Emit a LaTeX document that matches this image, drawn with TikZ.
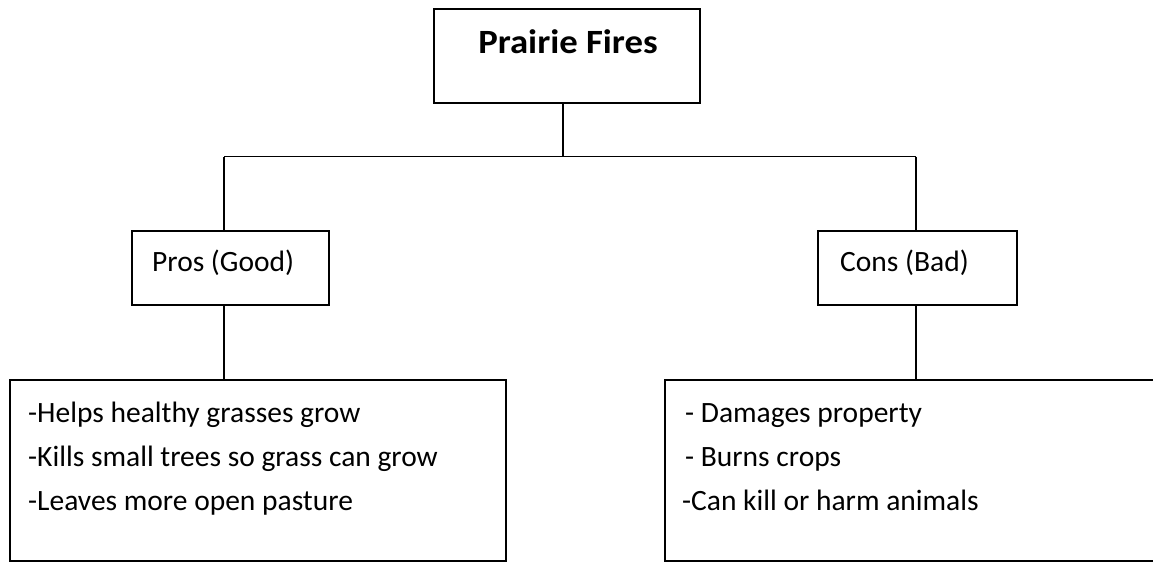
\documentclass[tikz,border=0pt]{standalone}
\usepackage{fontspec}
\setmainfont{Carlito}
\begin{document}
\begin{tikzpicture}[x=1pt,y=-1pt,
  box/.style={draw=black, line width=1.8pt, rectangle, inner sep=0pt},
  link/.style={draw=black, line width=1.3pt},
  txt/.style={anchor=base west, inner sep=0pt, font=\fontsize{29.5}{34}\selectfont},
  ttl/.style={anchor=base, inner sep=0pt, font=\fontsize{34}{40}\selectfont\bfseries}]
\useasboundingbox (0,0) rectangle (1153,563);
\clip (0,0) rectangle (1153,563);

% boxes
\node[box, minimum width=266pt, minimum height=94pt] (top) at (567,56) {};
\node[box, minimum width=197pt, minimum height=74pt] (pros) at (230.5,268) {};
\node[box, minimum width=199pt, minimum height=74pt] (cons) at (917.5,268) {};
\node[box, minimum width=496pt, minimum height=181pt] (good) at (258,470.5) {};
\node[box, minimum width=500pt, minimum height=181pt] (bad) at (915,470.5) {};

% texts
\node[ttl] (ttext) at (568,53.3) {\scalebox{1.08}[1]{Prairie Fires}};
\node[txt] (ptext) at (152,271.7) {Pros (Good)};
\node[txt] (ctext) at (840,271.7) {Cons (Bad)};
\node[txt] (g1) at (28,422) {-Helps healthy grasses grow};
\node[txt] (g2) at (28,466) {-Kills small trees so grass can grow};
\node[txt] (g3) at (28,510) {-Leaves more open pasture};
\node[txt] (b1) at (685,422) {- Damages property};
\node[txt] (b2) at (685,466) {- Burns crops};
\node[txt] (b3) at (682,510) {-Can kill or harm animals};

% connectors
\coordinate (j) at (563,156.5);
\coordinate (jL) at (224,156.5);
\coordinate (jR) at (916,156.5);
\draw[link] (top.south -| j) -- (j);
\draw[link] (jL) -- (jR);
\draw[link] (jL) -- (jL |- pros.north);
\draw[link] (jR) -- (jR |- cons.north);
\draw[link] (pros.south -| jL) -- (jL |- good.north);
\draw[link] (cons.south -| jR) -- (jR |- bad.north);
\end{tikzpicture}
\end{document}
